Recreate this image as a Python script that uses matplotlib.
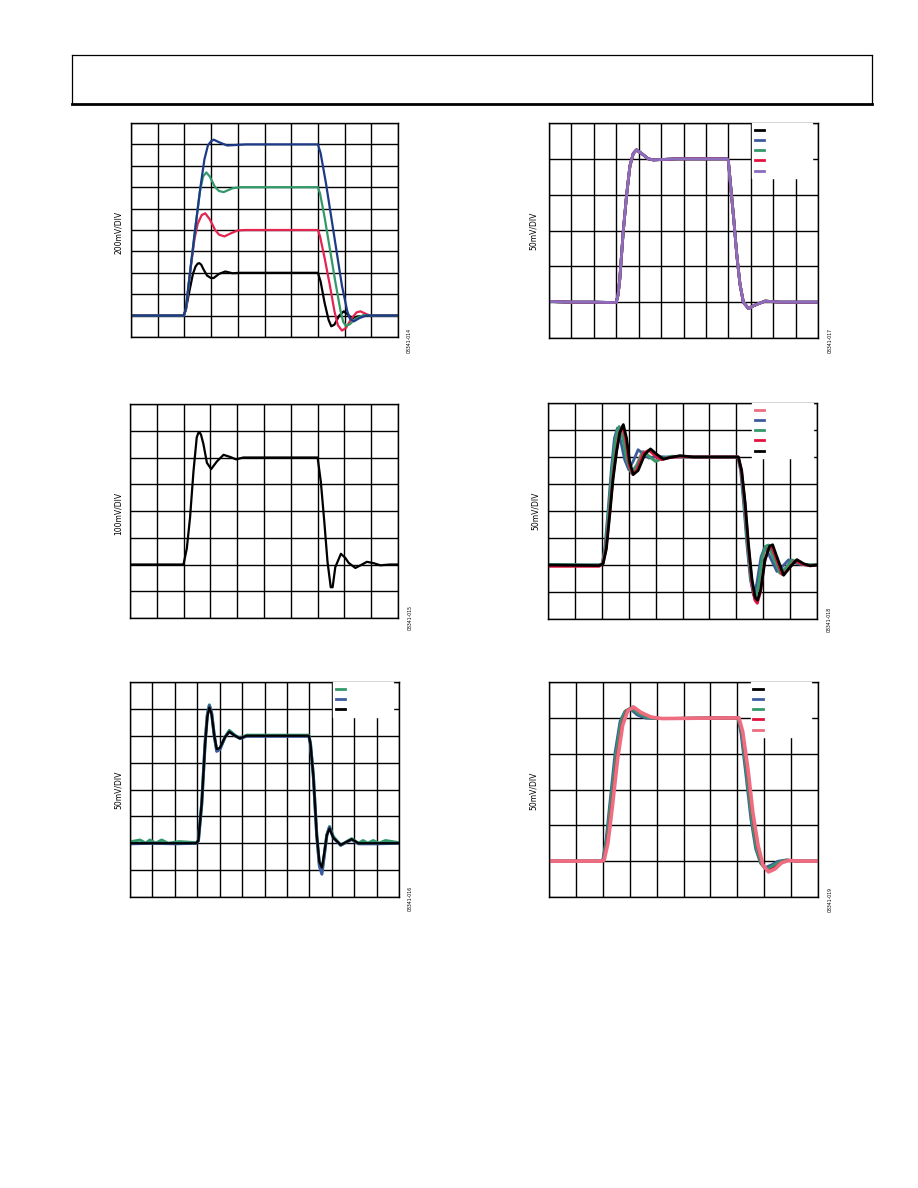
#!/usr/bin/env python3
"""Six scope-style pulse response panels on a datasheet page (values in divisions)."""

import matplotlib

matplotlib.use("Agg")
import matplotlib.pyplot as plt
from matplotlib.lines import Line2D

# ---- panel 1: large signal, four amplitudes (10 x 10 div) ----
p1_black_t = [0, 1.97, 2.05, 2.18, 2.32, 2.42, 2.5, 2.56, 2.63, 2.72, 2.85, 3.0, 3.1, 3.3, 3.53, 3.8, 4.1,
              7.0, 7.1, 7.25, 7.4, 7.5, 7.62, 7.8, 7.97, 8.12, 8.28, 8.5, 8.8, 10]
p1_black_v = [1.0, 1.0, 1.25, 2.1, 2.95, 3.3, 3.43, 3.45, 3.38, 3.15, 2.87, 2.75, 2.76, 2.95, 3.06, 2.98, 3.0,
              3.0, 2.6, 1.6, 0.8, 0.5, 0.58, 1.0, 1.2, 1.05, 0.87, 0.96, 1.0, 1.0]
p1_red_t = [0, 1.98, 2.06, 2.2, 2.38, 2.5, 2.65, 2.78, 2.95, 3.15, 3.3, 3.5, 3.75, 4.0, 4.3,
            7.0, 7.08, 7.25, 7.45, 7.62, 7.75, 7.9, 8.05, 8.25, 8.45, 8.59, 8.8, 9.0, 9.3, 10]
p1_red_v = [1.0, 1.0, 1.3, 2.9, 4.6, 5.3, 5.7, 5.78, 5.5, 5.0, 4.78, 4.7, 4.85, 4.98, 5.0,
            5.0, 4.7, 3.7, 2.4, 1.2, 0.55, 0.3, 0.42, 0.85, 1.15, 1.2, 1.08, 0.98, 1.0, 1.0]
p1_green_t = [0, 1.98, 2.06, 2.2, 2.4, 2.58, 2.7, 2.82, 2.95, 3.15, 3.3, 3.47, 3.8, 4.1,
              7.0, 7.08, 7.25, 7.45, 7.65, 7.85, 7.95, 8.05, 8.2, 8.4, 8.7, 9.0, 10]
p1_green_v = [1.0, 1.0, 1.3, 2.9, 5.0, 6.8, 7.5, 7.69, 7.5, 7.0, 6.82, 6.77, 6.95, 7.0,
              7.0, 6.7, 5.6, 4.1, 2.6, 1.2, 0.7, 0.52, 0.6, 0.85, 1.02, 1.0, 1.0]
p1_blue_t = [0, 1.97, 2.05, 2.2, 2.4, 2.6, 2.75, 2.88, 3.0, 3.1, 3.3, 3.6, 3.9, 4.3,
             7.0, 7.1, 7.3, 7.5, 7.7, 7.9, 8.1, 8.2, 8.35, 8.55, 8.8, 10]
p1_blue_v = [1.0, 1.0, 1.3, 2.9, 5.0, 7.0, 8.3, 8.95, 9.15, 9.22, 9.1, 8.95, 8.97, 9.0,
             9.0, 8.6, 7.2, 5.6, 4.0, 2.4, 1.2, 0.85, 0.73, 0.88, 1.0, 1.0]

# ---- panel 2: small signal, five overlapping traces (12 x 6 div) ----
p2_t = [0, 1.0, 2.0, 2.9, 3.0, 3.08, 3.16, 3.31, 3.46, 3.61, 3.76, 3.9, 4.13, 4.43, 4.65, 5.7,
        7.95, 8.0, 8.08, 8.23, 8.38, 8.52, 8.67, 8.9, 9.12, 9.64, 10.3, 12]
p2_v = [1.02, 1.0, 1.0, 0.99, 1.0, 1.2, 1.66, 2.96, 3.98, 4.8, 5.15, 5.25, 5.15, 5.0, 4.97, 5.0,
        5.0, 4.95, 4.4, 3.4, 2.3, 1.5, 1.0, 0.82, 0.9, 1.03, 1.0, 1.0]

# ---- panel 3: single trace with ringing (10 x 8 div) ----
p3_t = [0, 1.95, 2.0, 2.12, 2.24, 2.37, 2.49, 2.55, 2.59, 2.65, 2.74, 2.87, 3.03, 3.24, 3.49, 3.74, 3.96, 4.23,
        7.0, 7.12, 7.25, 7.37, 7.49, 7.56, 7.66, 7.87, 8.03, 8.16, 8.41, 8.62, 8.84, 9.09, 9.34, 9.71, 10]
p3_v = [2.0, 2.0, 2.02, 2.6, 3.75, 5.5, 6.75, 6.92, 6.95, 6.85, 6.5, 5.8, 5.57, 5.85, 6.1, 6.02, 5.93, 6.0,
        6.0, 5.1, 3.6, 2.1, 1.15, 1.15, 1.9, 2.4, 2.25, 2.06, 1.87, 1.98, 2.1, 2.05, 1.97, 2.0, 2.0]

# ---- panel 4: five traces, ringing shifts (10 x 8 div) ----
p4_pink_t = [0, 1.9, 2.03, 2.15, 2.27, 2.39, 2.51, 2.6, 2.7, 2.82, 2.96, 3.1, 3.3, 3.5, 3.75, 4.0, 4.3, 5.3,
             7.06, 7.18, 7.3, 7.42, 7.55, 7.68, 7.8, 7.95, 8.1, 8.2, 8.4, 8.6, 8.85, 9.05, 9.35, 9.7, 10]
p4_pink_v = [2.0, 2.0, 2.05, 2.7, 4.0, 5.4, 6.5, 6.95, 7.1, 6.7, 5.9, 5.45, 5.7, 6.2, 6.05, 5.88, 5.97, 6.0,
             6.0, 5.5, 4.2, 2.7, 1.4, 0.75, 1.1, 2.2, 2.65, 2.72, 2.25, 1.72, 1.9, 2.18, 2.05, 2.0, 2.0]
p4_blue_t = [0, 1.9, 2.02, 2.12, 2.24, 2.36, 2.47, 2.58, 2.7, 2.85, 3.0, 3.17, 3.35, 3.55, 3.75, 4.0, 4.4, 5.3,
             7.05, 7.16, 7.28, 7.4, 7.52, 7.64, 7.76, 7.92, 8.07, 8.3, 8.51, 8.72, 8.94, 9.25, 9.6, 10]
p4_blue_v = [2.0, 2.0, 2.05, 2.7, 4.1, 5.6, 6.7, 7.07, 6.6, 5.9, 5.53, 5.85, 6.27, 6.1, 5.96, 6.02, 6.0, 6.0,
             6.0, 5.5, 4.2, 2.7, 1.5, 0.89, 1.3, 2.3, 2.68, 2.2, 1.76, 1.95, 2.19, 2.05, 2.0, 2.0]
p4_green_t = [0, 1.9, 2.03, 2.14, 2.26, 2.38, 2.5, 2.58, 2.65, 2.78, 2.92, 3.1, 3.3, 3.54, 3.78, 4.0, 4.25, 4.6, 5.3,
              7.06, 7.18, 7.3, 7.42, 7.55, 7.7, 7.82, 7.97, 8.1, 8.2, 8.4, 8.63, 8.85, 9.07, 9.35, 9.7, 10]
p4_green_v = [2.02, 2.0, 2.05, 2.7, 4.1, 5.5, 6.6, 7.0, 7.13, 6.7, 5.9, 5.4, 5.7, 6.2, 6.0, 5.83, 5.95, 6.03, 6.0,
              6.0, 5.5, 4.2, 2.7, 1.4, 0.77, 1.2, 2.3, 2.7, 2.74, 2.2, 1.69, 1.9, 2.19, 2.05, 2.0, 2.02]
p4_red_t = [0, 1.9, 2.04, 2.16, 2.29, 2.41, 2.54, 2.66, 2.78, 2.9, 3.02, 3.15, 3.32, 3.55, 3.75, 3.98, 4.22, 4.48,
            4.88, 5.4, 7.07, 7.19, 7.32, 7.44, 7.57, 7.69, 7.78, 7.9, 8.05, 8.2, 8.3, 8.46, 8.7, 8.9, 9.18, 9.45,
            9.75, 10]
p4_red_v = [1.95, 1.95, 2.05, 2.6, 3.9, 5.2, 6.2, 6.9, 7.15, 6.6, 5.7, 5.35, 5.55, 6.15, 6.25, 6.05, 5.9, 5.97,
            6.03, 6.0, 6.0, 5.5, 4.3, 2.8, 1.4, 0.7, 0.58, 1.0, 2.1, 2.62, 2.7, 2.3, 1.65, 1.8, 2.15, 2.03,
            1.97, 2.0]
p4_black_t = [0, 1.9, 2.05, 2.17, 2.3, 2.42, 2.55, 2.67, 2.8, 2.92, 3.04, 3.17, 3.35, 3.6, 3.81, 4.04, 4.29, 4.53,
              4.91, 5.4, 7.08, 7.2, 7.33, 7.45, 7.58, 7.7, 7.79, 7.91, 8.07, 8.24, 8.35, 8.51, 8.76, 8.94, 9.25,
              9.5, 9.75, 10]
p4_black_v = [2.0, 1.98, 2.05, 2.6, 3.9, 5.2, 6.2, 6.9, 7.2, 6.7, 5.8, 5.35, 5.5, 6.1, 6.3, 6.1, 5.92, 5.98,
              6.05, 6.0, 6.0, 5.5, 4.3, 2.8, 1.5, 0.8, 0.7, 1.1, 2.2, 2.7, 2.75, 2.3, 1.62, 1.85, 2.2,
              2.05, 1.97, 2.0]

# ---- panel 5: three traces (12 x 8 div) ----
p5_green_t = [0, 0.45, 0.7, 0.89, 1.15, 1.41, 1.7, 2.2, 2.95, 3.05, 3.2, 3.35, 3.45, 3.54, 3.64, 3.76, 3.87,
              4.01, 4.24, 4.43, 4.68, 4.91, 5.2, 7.98, 8.05, 8.18, 8.33, 8.45, 8.56, 8.66, 8.78, 8.9, 9.07,
              9.4, 9.66, 9.89, 10.19, 10.4, 10.6, 10.85, 11.1, 11.4, 12]
p5_green_v = [2.05, 2.12, 2.0, 2.12, 2.0, 2.12, 2.0, 2.06, 2.02, 2.1, 3.5, 5.75, 6.8, 7.15, 6.85, 6.0, 5.45,
              5.5, 5.95, 6.2, 6.02, 5.9, 6.02, 6.02, 5.7, 4.5, 2.3, 1.2, 0.95, 1.55, 2.3, 2.62, 2.25,
              1.92, 2.06, 2.17, 2.0, 2.1, 2.0, 2.1, 2.0, 2.1, 2.02]
p5_blue_t = [0, 1.0, 2.0, 2.95, 3.05, 3.2, 3.35, 3.45, 3.54, 3.64, 3.76, 3.87, 4.01, 4.24, 4.43, 4.68, 4.91, 5.2,
             7.98, 8.05, 8.18, 8.33, 8.45, 8.56, 8.66, 8.78, 8.9, 9.07, 9.4, 9.66, 9.89, 10.19, 11.0, 12]
p5_blue_v = [1.98, 2.0, 1.98, 2.0, 2.08, 3.45, 5.7, 6.75, 7.12, 6.85, 6.0, 5.42, 5.5, 5.95, 6.15, 6.0, 5.9, 5.98,
             5.98, 5.7, 4.5, 2.3, 1.15, 0.85, 1.5, 2.3, 2.6, 2.2, 1.93, 2.04, 2.14, 1.98, 1.98, 2.0]
p5_black_t = [0, 2.95, 3.05, 3.2, 3.35, 3.45, 3.54, 3.64, 3.76, 3.87, 4.01, 4.24, 4.43, 4.68, 4.91, 5.2,
              7.98, 8.05, 8.18, 8.33, 8.45, 8.56, 8.66, 8.78, 8.9, 9.07, 9.4, 9.66, 9.89, 10.19, 12]
p5_black_v = [2.0, 2.0, 2.1, 3.5, 5.7, 6.7, 7.05, 6.8, 6.0, 5.5, 5.55, 5.95, 6.15, 6.0, 5.9, 6.0,
              6.0, 5.7, 4.5, 2.3, 1.3, 1.1, 1.6, 2.3, 2.55, 2.2, 1.94, 2.05, 2.15, 2.0, 2.0]

# ---- panel 6: five traces, slow edges (10 x 6 div) ----
p6_black_t = [0, 1.95, 2.02, 2.16, 2.32, 2.51, 2.7, 2.88, 3.11, 3.38, 3.75, 4.12,
              7.04, 7.17, 7.36, 7.54, 7.73, 7.91, 8.12, 8.35, 8.6, 8.84, 9.34, 10]
p6_black_v = [1.0, 1.0, 1.03, 1.55, 2.65, 3.95, 4.85, 5.2, 5.3, 5.15, 5.02, 4.98,
              5.0, 4.6, 3.5, 2.3, 1.4, 0.92, 0.73, 0.82, 0.97, 1.03, 1.0, 1.0]
p6_blue_t = [0, 1.93, 2.0, 2.12, 2.28, 2.46, 2.64, 2.82, 3.02, 3.28, 3.6, 4.0,
             7.02, 7.14, 7.32, 7.5, 7.68, 7.86, 8.04, 8.28, 8.52, 8.8, 9.3, 10]
p6_blue_v = [1.0, 1.0, 1.04, 1.6, 2.75, 4.05, 4.9, 5.18, 5.25, 5.08, 4.99, 4.98,
             5.0, 4.55, 3.4, 2.2, 1.35, 0.95, 0.82, 0.9, 1.0, 1.03, 1.0, 1.0]
p6_green_t = [0, 1.94, 2.01, 2.14, 2.3, 2.49, 2.67, 2.85, 3.06, 3.32, 3.68, 4.06,
              7.03, 7.16, 7.34, 7.52, 7.7, 7.88, 8.08, 8.3, 8.56, 8.82, 9.3, 10]
p6_green_v = [1.0, 1.0, 1.03, 1.58, 2.7, 4.0, 4.88, 5.2, 5.28, 5.12, 5.0, 4.98,
              5.0, 4.58, 3.45, 2.25, 1.38, 0.93, 0.76, 0.86, 0.98, 1.03, 1.0, 1.0]
p6_red_t = [0, 1.96, 2.03, 2.17, 2.34, 2.53, 2.72, 2.9, 3.13, 3.4, 3.78, 4.15,
            7.05, 7.18, 7.38, 7.56, 7.75, 7.93, 8.14, 8.38, 8.62, 8.86, 9.36, 10]
p6_red_v = [1.0, 1.0, 1.03, 1.52, 2.6, 3.9, 4.82, 5.2, 5.3, 5.15, 5.02, 4.98,
            5.0, 4.62, 3.52, 2.32, 1.42, 0.9, 0.72, 0.8, 0.96, 1.02, 1.0, 1.0]
p6_pink_t = [0, 1.97, 2.05, 2.19, 2.36, 2.55, 2.74, 2.93, 3.15, 3.42, 3.8, 4.2,
             7.06, 7.2, 7.4, 7.58, 7.77, 7.95, 8.16, 8.4, 8.64, 8.9, 9.4, 10]
p6_pink_v = [1.0, 1.0, 1.03, 1.5, 2.55, 3.85, 4.8, 5.2, 5.3, 5.15, 5.02, 4.98,
             5.0, 4.62, 3.55, 2.35, 1.45, 0.9, 0.7, 0.78, 0.95, 1.02, 1.0, 1.0]

# ---- page text ----
ylabels = ["200mV/DIV", "50mV/DIV", "100mV/DIV", "50mV/DIV", "50mV/DIV", "50mV/DIV"]
codes = ["08341-014", "08341-017", "08341-015", "08341-018", "08341-016", "08341-019"]

BLACK = "#000000"
NAVY = "#1c3a87"
GREEN = "#33996a"
RED = "#e3244f"
BLUE = "#3d5d9c"
RED2 = "#e0123e"
PURPLE = "#8a6dbf"
PINK = "#ee6d80"

W, H = 918, 1188
fig = plt.figure(figsize=(W / 100, H / 100), dpi=100)


def px_axes(x0, y0, x1, y1):
    return fig.add_axes([x0 / W, 1 - y1 / H, (x1 - x0) / W, (y1 - y0) / H])


def scope(ax, nx, ny):
    ax.set_xlim(0, nx)
    ax.set_ylim(0, ny)
    ax.set_xticks(range(nx + 1))
    ax.set_yticks(range(ny + 1))
    ax.tick_params(length=0, labelbottom=False, labelleft=False)
    ax.grid(True, color="black", linewidth=1.0)
    ax.set_axisbelow(True)
    for s in ax.spines.values():
        s.set_linewidth(1.0)


def blank_legend(ax, colors, x0):
    # legend text is blank on the page; the white box still hides the grid
    handles = [Line2D([], [], color=c, lw=2.0) for c in colors]
    ax.legend(handles, [" " * 18] * len(colors), loc="upper left",
              bbox_to_anchor=(x0, 1.0), fontsize=5.5, handlelength=1.2,
              handletextpad=0.4, labelspacing=0.15, borderaxespad=0.0,
              borderpad=0.35, frameon=True, fancybox=False, framealpha=1.0,
              edgecolor="white", facecolor="white")


lw = 1.6

ax1 = px_axes(131, 123, 398, 337)
scope(ax1, 10, 10)
ax1.plot(p1_black_t, p1_black_v, color=BLACK, lw=lw)
ax1.plot(p1_red_t, p1_red_v, color=RED, lw=lw)
ax1.plot(p1_green_t, p1_green_v, color=GREEN, lw=lw)
ax1.plot(p1_blue_t, p1_blue_v, color=NAVY, lw=lw)

ax2 = px_axes(549, 123, 818, 338)
scope(ax2, 12, 6)
for c in [BLACK, BLUE, GREEN, RED2, PURPLE]:
    ax2.plot(p2_t, p2_v, color=c, lw=2.0)
blank_legend(ax2, [BLACK, BLUE, GREEN, RED2, PURPLE], 0.755)

ax3 = px_axes(130, 404, 398, 618)
scope(ax3, 10, 8)
ax3.plot(p3_t, p3_v, color=BLACK, lw=lw)

ax4 = px_axes(548, 403, 817, 619)
scope(ax4, 10, 8)
ax4.plot(p4_pink_t, p4_pink_v, color=PINK, lw=2.0)
ax4.plot(p4_blue_t, p4_blue_v, color=BLUE, lw=2.0)
ax4.plot(p4_green_t, p4_green_v, color=GREEN, lw=2.0)
ax4.plot(p4_red_t, p4_red_v, color=RED2, lw=2.0)
ax4.plot(p4_black_t, p4_black_v, color=BLACK, lw=2.0)
blank_legend(ax4, [PINK, BLUE, GREEN, RED2, BLACK], 0.76)

ax5 = px_axes(130, 682, 399, 897)
scope(ax5, 12, 8)
ax5.plot(p5_green_t, p5_green_v, color=GREEN, lw=2.2)
ax5.plot(p5_blue_t, p5_blue_v, color=BLUE, lw=2.2)
ax5.plot(p5_black_t, p5_black_v, color=BLACK, lw=lw)
blank_legend(ax5, [GREEN, BLUE, BLACK], 0.755)

ax6 = px_axes(549, 682, 818, 897)
scope(ax6, 10, 6)
ax6.plot(p6_black_t, p6_black_v, color=BLACK, lw=2.0)
ax6.plot(p6_blue_t, p6_blue_v, color=BLUE, lw=2.0)
ax6.plot(p6_green_t, p6_green_v, color=GREEN, lw=2.0)
ax6.plot(p6_red_t, p6_red_v, color=RED2, lw=2.0)
ax6.plot(p6_pink_t, p6_pink_v, color=PINK, lw=2.6)
blank_legend(ax6, [BLACK, BLUE, GREEN, RED2, PINK], 0.75)

# y-axis captions and figure codes, placed in page pixels
label_pos = [(118, 232), (533, 231), (118, 513), (535, 511), (118, 790), (533, 791)]
code_pos = [(409, 341), (830, 340), (410, 617), (829, 619), (410, 898), (830, 900)]
for text, (x, y) in zip(ylabels, label_pos):
    fig.text(x / W, 1 - y / H, text, rotation=90, ha="center", va="center",
             fontsize=5.5)
for text, (x, y) in zip(codes, code_pos):
    fig.text(x / W, 1 - y / H, text, rotation=90, ha="center", va="center",
             fontsize=3.3)


# page header frame
def hline(x0, x1, y, w):
    fig.add_artist(Line2D([x0 / W, x1 / W], [1 - y / H, 1 - y / H],
                          transform=fig.transFigure, color="black", lw=w))


def vline(x, y0, y1, w):
    fig.add_artist(Line2D([x / W, x / W], [1 - y0 / H, 1 - y1 / H],
                          transform=fig.transFigure, color="black", lw=w))


hline(72, 872, 54.5, 0.9)
hline(72, 872, 103.5, 2.0)
vline(72.3, 54.5, 103.5, 0.9)
vline(872, 54.5, 103.5, 0.9)

fig.savefig("out.png", dpi=100)
